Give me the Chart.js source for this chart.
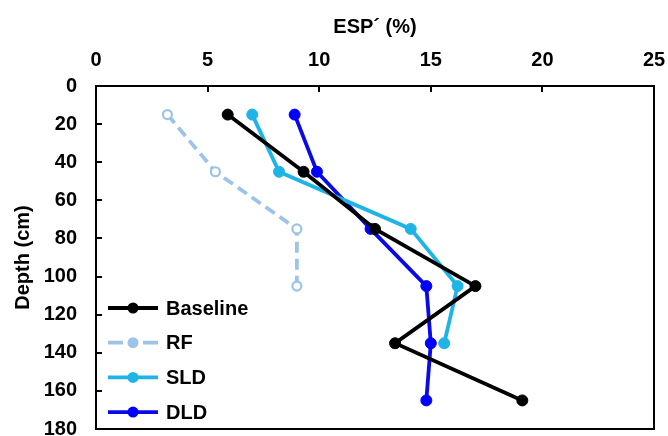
<!DOCTYPE html>
<html>
<head>
<meta charset="utf-8">
<script src="https://cdn.jsdelivr.net/npm/chart.js@4.4.1/dist/chart.umd.min.js"></script>
<style>
  html, body { margin: 0; padding: 0; background: #fff; }
  #wrap { width: 668px; height: 436px; position: relative; }
</style>
</head>
<body>
<div id="wrap"><canvas id="c"></canvas></div>
<script>
// ---- Data ----
const depths = [15, 45, 75, 105, 135, 165];           // depth (cm)
const seriesNames = ['Baseline', 'RF', 'SLD', 'DLD'];
const baseline = [5.9, 9.3, 12.5, 17.0, 13.4, 19.1];  // ESP´ (%)
const rf = [3.2, 5.35, 9.0, 9.0];
const sld = [7.0, 8.2, 14.1, 16.2, 15.6];
const dld = [8.9, 9.9, 12.3, 14.8, 15.0, 14.8];
const xTicks = [0, 5, 10, 15, 20, 25];
const yTicks = [0, 20, 40, 60, 80, 100, 120, 140, 160, 180];
const xTitle = 'ESP´ (%)';
const yTitle = 'Depth (cm)';

const FONT = '"Liberation Sans", Arial, sans-serif';
const toPts = (vals) => vals.map((v, i) => ({ x: v, y: depths[i] }));

const styles = [
  { color: '#000000', fill: '#000000', dash: [], radius: 5.5 },
  { color: '#9DC3E6', fill: '#ffffff', dash: [11, 6], radius: 4.5 },
  { color: '#1FB4E6', fill: '#1FB4E6', dash: [], radius: 5.5 },
  { color: '#0A0AE6', fill: '#0000FF', dash: [], radius: 5.5 }
];
const seriesVals = [baseline, rf, sld, dld];

const datasets = seriesVals.map((vals, i) => ({
  label: seriesNames[i],
  data: toPts(vals),
  showLine: true,
  borderColor: styles[i].color,
  backgroundColor: styles[i].fill,
  borderWidth: 3.8,
  borderDash: styles[i].dash,
  pointRadius: styles[i].radius,
  pointBorderWidth: i === 1 ? 2.2 : 1,
  pointBorderColor: i === 1 ? styles[i].color : styles[i].fill,
  pointBackgroundColor: styles[i].fill,
  tension: 0
}));

const framePlugin = {
  id: 'frame',
  afterDatasetsDraw(chart) {
    const { ctx, chartArea: a, scales } = chart;
    ctx.save();
    ctx.strokeStyle = '#000';
    ctx.lineWidth = 2;
    ctx.setLineDash([]);
    ctx.beginPath();
    xTicks.forEach(t => {
      if (t === xTicks[0] || t === xTicks[xTicks.length - 1]) return;
      const px = Math.round(scales.x.getPixelForValue(t));
      ctx.moveTo(px, a.top);
      ctx.lineTo(px, a.top + 6);
    });
    yTicks.forEach(t => {
      if (t === yTicks[0] || t === yTicks[yTicks.length - 1]) return;
      const py = Math.round(scales.y.getPixelForValue(t));
      ctx.moveTo(a.left, py);
      ctx.lineTo(a.left + 6, py);
    });
    ctx.stroke();
    ctx.strokeRect(a.left, a.top, a.right - a.left, a.bottom - a.top);
    ctx.restore();
  },
  afterDraw(chart) {
    const { ctx, chartArea: a } = chart;
    ctx.save();
    const x0 = a.left + 12, x1 = x0 + 50;
    const y0 = a.top + 222, step = 34.7;
    chart.data.datasets.forEach((ds, i) => {
      const y = y0 + i * step;
      ctx.strokeStyle = ds.borderColor;
      ctx.lineWidth = 3.8;
      ctx.setLineDash(i === 1 ? [15, 20] : []);
      ctx.beginPath();
      ctx.moveTo(x0, y);
      ctx.lineTo(x1, y);
      ctx.stroke();
      ctx.setLineDash([]);
      ctx.beginPath();
      ctx.arc((x0 + x1) / 2, y, 5.5, 0, Math.PI * 2);
      ctx.fillStyle = i === 1 ? styles[i].color : ds.pointBackgroundColor;
      ctx.fill();
      ctx.fillStyle = '#000';
      ctx.font = 'bold 20px ' + FONT;
      ctx.textAlign = 'left';
      ctx.textBaseline = 'middle';
      ctx.fillText(ds.label, x1 + 8, y + 1);
    });
    ctx.restore();
  }
};

new Chart(document.getElementById('c'), {
  type: 'scatter',
  data: { datasets },
  options: {
    responsive: true,
    maintainAspectRatio: false,
    animation: false,
    layout: { padding: { top: 0, left: 0, right: 14, bottom: 7 } },
    plugins: { legend: { display: false }, tooltip: { enabled: false } },
    scales: {
      x: {
        type: 'linear',
        position: 'top',
        min: 0, max: 25,
        afterBuildTicks: (s) => { s.ticks = xTicks.map(v => ({ value: v })); },
        afterFit: (s) => { s.height = 86; s.paddingLeft = 0; s.paddingRight = 0; },
        grid: { display: false, drawTicks: false },
        border: { display: false },
        ticks: { color: '#000', padding: 14, font: { family: FONT, size: 20, weight: 'bold' } },
        title: { display: true, text: xTitle, color: '#000', padding: { top: 15, bottom: 0 },
                 font: { family: FONT, size: 20, weight: 'bold' } }
      },
      y: {
        type: 'linear',
        reverse: true,
        min: 0, max: 180,
        afterBuildTicks: (s) => { s.ticks = yTicks.map(v => ({ value: v })); },
        afterFit: (s) => { s.width = 96; s.paddingTop = 0; s.paddingBottom = 0; },
        grid: { display: false, drawTicks: false },
        border: { display: false },
        ticks: { color: '#000', padding: 19, font: { family: FONT, size: 20, weight: 'bold' } },
        title: { display: true, text: yTitle, color: '#000', padding: { top: 11, bottom: 0 },
                 font: { family: FONT, size: 20, weight: 'bold' } }
      }
    }
  },
  plugins: [framePlugin]
});
</script>
</body>
</html>
